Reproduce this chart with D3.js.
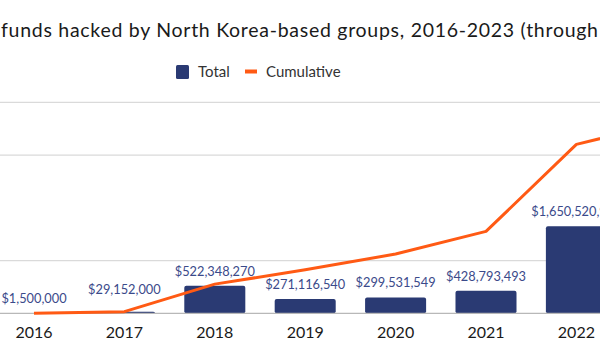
<!DOCTYPE html>
<html lang="en">
<head>
    <meta charset="UTF-8">
    <title>North Korea hacks</title>
    <script src="https://d3js.org/d3.v7.min.js"></script>
    <style>
        body { margin: 0; background: #fff; }
        svg { display: block; font-family: Lato, sans-serif; }
    </style>
</head>
<body>
    <svg></svg>

    <script>
        const years = ['2016', '2017', '2018', '2019', '2020', '2021', '2022', '2023'];
        const totals = [1500000, 29152000, 522348270, 271116540, 299531549, 428793493, 1650520900, 415000000];
        const totalLabels = ['$1,500,000', '$29,152,000', '$522,348,270', '$271,116,540', '$299,531,549', '$428,793,493', '$1,650,520,900', ''];
        const gridValues = [1e9, 3e9, 4e9];
        const titleText = 'funds hacked by North Korea-based groups, 2016-2023 (through';

        const width = 600;
        const height = 354;

        // running sum for the line
        let run = 0;
        const cumulative = totals.map(v => run += v);

        const svg = d3.select('svg')
            .attr('width', width)
            .attr('height', height)
            .attr('viewBox', [0, 0, width, height]);

        // the picture is a crop, so the band range runs past the right edge
        const x_scale = d3.scaleBand()
            .domain(years)
            .range([-11.2, 712])
            .paddingInner(0.325)
            .paddingOuter(0.1625);

        const y_scale = d3.scaleLinear()
            .domain([0, 4e9])
            .range([313.3, 102.3]);

        const cx = d => x_scale(d) + x_scale.bandwidth() / 2;

        // title + legend
        svg.append('text')
            .attr('x', 1)
            .attr('y', 37)
            .attr('textLength', 597)
            .attr('lengthAdjust', 'spacing')
            .style('font-size', '19.5px')
            .style('fill', '#1a1a1a')
            .text(titleText);

        const legend = svg.append('g');
        legend.append('rect')
            .attr('x', 176).attr('y', 65)
            .attr('width', 13).attr('height', 14).attr('rx', 1.5)
            .style('fill', '#2a3a73');
        legend.append('text')
            .attr('x', 198).attr('y', 77)
            .style('font-size', '15px').style('fill', '#333')
            .text('Total');
        legend.append('line')
            .attr('x1', 245).attr('x2', 257).attr('y1', 71.5).attr('y2', 71.5)
            .style('stroke', '#ff5a14').style('stroke-width', 4);
        legend.append('text')
            .attr('x', 266).attr('y', 77)
            .style('font-size', '15px').style('fill', '#333')
            .text('Cumulative');

        // gridlines
        svg.append('g')
            .selectAll('line')
            .data(gridValues)
            .join('line')
            .attr('x1', 0).attr('x2', width)
            .attr('y1', d => y_scale(d)).attr('y2', d => y_scale(d))
            .style('stroke', '#dadada')
            .style('stroke-width', 1.2);

        // bars
        svg.append('g')
            .selectAll('rect')
            .data(years)
            .join('rect')
            .attr('x', d => x_scale(d))
            .attr('y', (d, i) => y_scale(totals[i]))
            .attr('width', x_scale.bandwidth())
            .attr('height', (d, i) => y_scale(0) - y_scale(totals[i]))
            .attr('rx', 2)
            .style('fill', '#2a3a73');

        // baseline
        svg.append('line')
            .attr('x1', 0).attr('x2', width)
            .attr('y1', y_scale(0)).attr('y2', y_scale(0))
            .style('stroke', '#b8b8b8')
            .style('stroke-width', 1.2);

        // x axis, only the years that fall inside the crop
        const x_axis = d3.axisBottom(x_scale)
            .tickValues(years.filter(d => cx(d) < width))
            .tickSize(0).tickPadding(13);
        const gx = svg.append('g')
            .attr('transform', `translate(0,${y_scale(0)})`)
            .call(x_axis);
        gx.select('.domain').remove();
        gx.selectAll('text')
            .style('font-family', 'Lato, sans-serif')
            .style('font-size', '16px')
            .style('fill', '#1a1a1a');

        // cumulative line
        const linePts = years.map((d, i) => [cx(d), y_scale(cumulative[i])]);
        svg.append('path')
            .datum(linePts)
            .attr('d', d3.line())
            .style('fill', 'none')
            .style('stroke', '#ff5a14')
            .style('stroke-width', 3)
            .style('stroke-linejoin', 'round');

        // line y at a given x (straight segments)
        const lineY = px => {
            for (let i = 0; i < linePts.length - 1; i++) {
                const [x0, y0] = linePts[i], [x1, y1] = linePts[i + 1];
                if (px >= x0 && px <= x1) return y0 + (y1 - y0) * (px - x0) / (x1 - x0);
            }
            return null;
        };

        // value labels, pushed up if the line runs through them
        svg.append('g')
            .selectAll('text')
            .data(years)
            .join('text')
            .attr('x', d => cx(d))
            .attr('text-anchor', 'middle')
            .style('font-size', '12.8px')
            .style('fill', '#3b4a8a')
            .text((d, i) => totalLabels[i])
            .each(function (d, i) {
                const w = this.getComputedTextLength();
                let base = y_scale(totals[i]) - 10;
                const top = base - 10;
                let minY = Infinity;
                for (let px = cx(d) - w / 2; px <= cx(d) + w / 2; px += 2) {
                    const ly = lineY(px);
                    if (ly !== null && ly < base + 2 && ly > top) minY = Math.min(minY, ly);
                }
                if (minY < Infinity) base = minY - 7;
                d3.select(this).attr('y', base);
            });
    </script>
</body>
</html>
